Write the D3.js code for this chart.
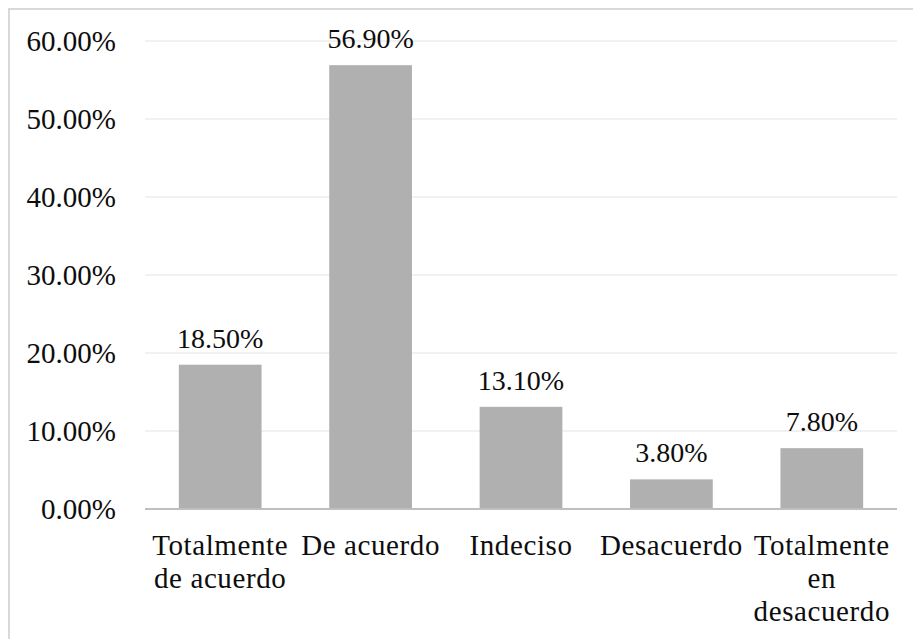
<!DOCTYPE html>
<html>
<head>
<meta charset="utf-8">
<script src="https://cdn.jsdelivr.net/npm/d3@7"></script>
<style>
  body { margin: 0; background: #fff; }
</style>
</head>
<body>
<div id="chart"></div>
<script>
// data
var categories = ["Totalmente de acuerdo", "De acuerdo", "Indeciso", "Desacuerdo", "Totalmente en desacuerdo"];
var values = [18.5, 56.9, 13.1, 3.8, 7.8];
var yTicks = [0, 10, 20, 30, 40, 50, 60];

var FONT = "'Liberation Serif', serif";

var width = 913, height = 639;
var margin = {left: 145, right: 16, top: 41, bottom: 130};
var plotW = width - margin.left - margin.right;
var plotH = height - margin.top - margin.bottom;

var svg = d3.select("#chart").append("svg")
    .attr("width", width)
    .attr("height", height);

// outer frame (only top and left sides show in the original)
svg.append("rect")
    .attr("x", 9).attr("y", 9)
    .attr("width", width + 20).attr("height", height + 20)
    .attr("fill", "none")
    .attr("stroke", "#d9d9d9")
    .attr("stroke-width", 2);

var g = svg.append("g")
    .attr("transform", "translate(" + margin.left + "," + margin.top + ")");

var x = d3.scaleBand().domain(categories).range([0, plotW]).paddingInner(0.45).paddingOuter(0.225);
var y = d3.scaleLinear().domain([0, 60]).range([plotH, 0]);

// gridlines
g.selectAll(".grid")
    .data(yTicks.filter(function(d) { return d > 0; }))
  .enter().append("line")
    .attr("class", "grid")
    .attr("x1", 0).attr("x2", plotW)
    .attr("y1", function(d) { return y(d); })
    .attr("y2", function(d) { return y(d); })
    .attr("stroke", "#ececec")
    .attr("stroke-width", 1.5);

// y axis labels
var yAxis = d3.axisLeft(y)
    .tickValues(yTicks)
    .tickFormat(function(d) { return d.toFixed(2) + "%"; })
    .tickSize(0)
    .tickPadding(29);

var yg = g.append("g").call(yAxis);
yg.select(".domain").remove();
yg.selectAll("text")
    .attr("style", "font-family:" + FONT + ";font-size:29px")
    .attr("fill", "#0d0d0d");

// bars
g.selectAll(".bar")
    .data(values)
  .enter().append("rect")
    .attr("class", "bar")
    .attr("x", function(d, i) { return x(categories[i]); })
    .attr("y", function(d) { return y(d); })
    .attr("width", x.bandwidth())
    .attr("height", function(d) { return plotH - y(d); })
    .attr("fill", "#b0b0b0");

// value labels
g.selectAll(".val")
    .data(values)
  .enter().append("text")
    .attr("class", "val")
    .attr("x", function(d, i) { return x(categories[i]) + x.bandwidth() / 2; })
    .attr("y", function(d) { return y(d) - 17; })
    .attr("text-anchor", "middle")
    .attr("style", "font-family:" + FONT + ";font-size:28px")
    .attr("fill", "#0d0d0d")
    .text(function(d) { return d.toFixed(2) + "%"; });

// x axis line
g.append("line")
    .attr("x1", 0).attr("x2", plotW)
    .attr("y1", plotH).attr("y2", plotH)
    .attr("stroke", "#bfbfbf")
    .attr("stroke-width", 2);

// x labels, wrapped to band step
var xAxis = d3.axisBottom(x).tickSize(0).tickPadding(0);
var xg = g.append("g")
    .attr("transform", "translate(0," + plotH + ")")
    .call(xAxis);
xg.select(".domain").remove();
xg.selectAll("text")
    .attr("style", "font-family:" + FONT + ";font-size:29px;letter-spacing:0.6px")
    .attr("fill", "#0d0d0d")
    .attr("dy", null)
    .call(wrap, x.step());

function wrap(textSel, maxW) {
  textSel.each(function() {
    var text = d3.select(this);
    var words = text.text().split(/\s+/);
    text.text(null);
    var lines = [], line = [];
    var probe = text.append("tspan");
    words.forEach(function(w) {
      line.push(w);
      probe.text(line.join(" "));
      if (probe.node().getComputedTextLength() > maxW && line.length > 1) {
        line.pop();
        lines.push(line.join(" "));
        line = [w];
      }
    });
    lines.push(line.join(" "));
    probe.remove();
    lines.forEach(function(l, i) {
      text.append("tspan")
        .attr("x", 0)
        .attr("y", 46 + i * 33)
        .text(l);
    });
  });
}
</script>
</body>
</html>
